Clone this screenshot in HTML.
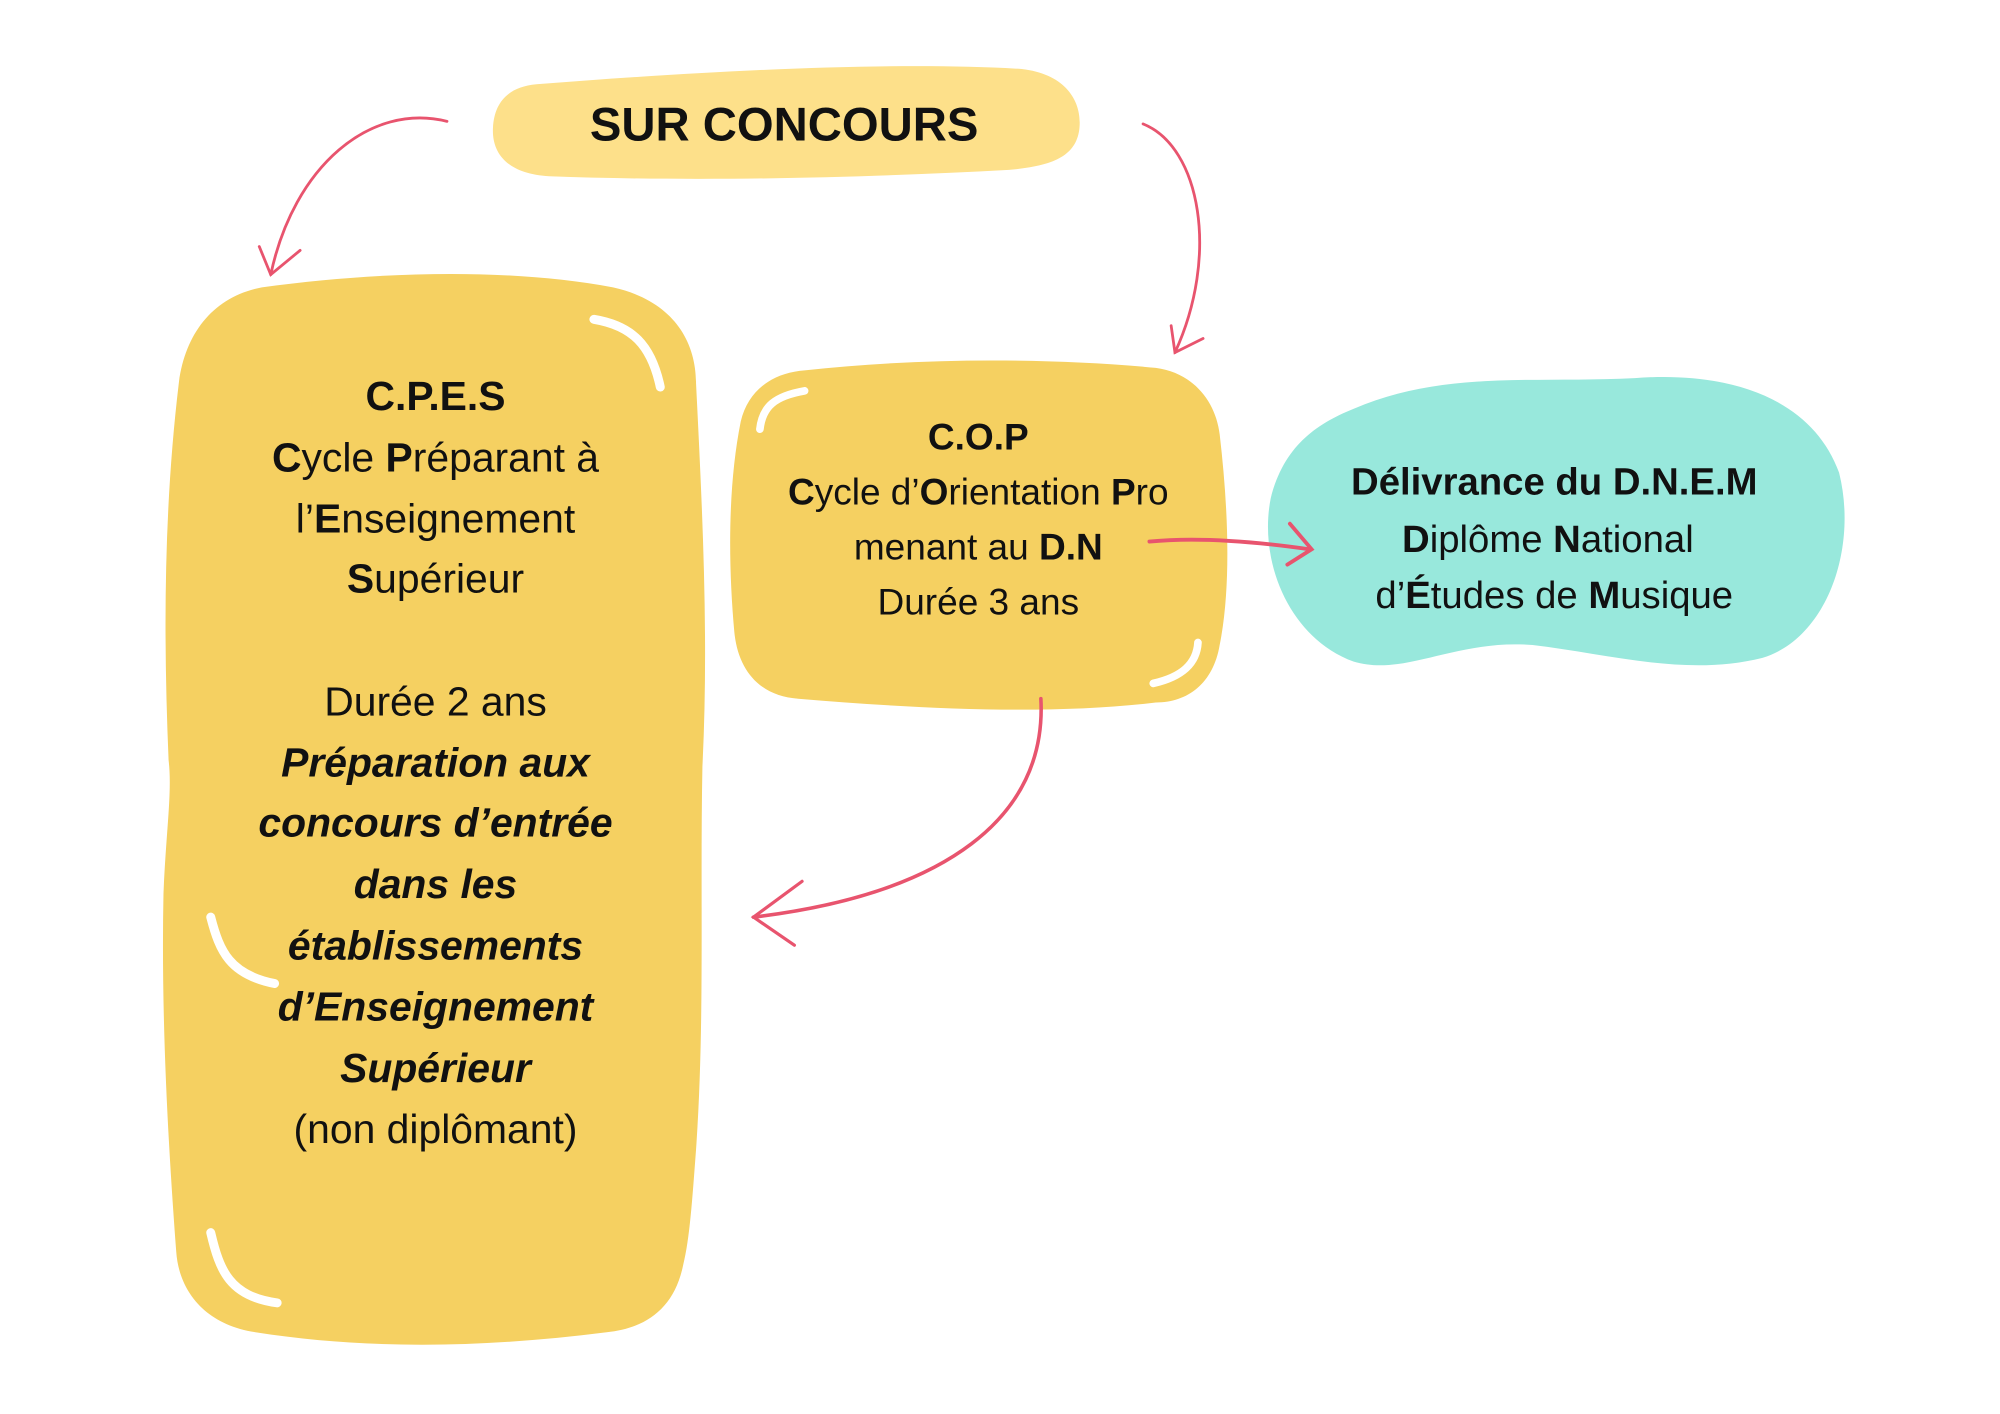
<!DOCTYPE html>
<html><head><meta charset="utf-8"><style>html,body{margin:0;padding:0;background:#fff}svg{display:block}</style></head>
<body>
<svg width="2000" height="1414" viewBox="0 0 1566 1107" preserveAspectRatio="none" xmlns="http://www.w3.org/2000/svg" font-family="'Liberation Sans', sans-serif">
<rect width="1566" height="1107" fill="#fff"/>
<!-- SUR CONCOURS pill -->
<path d="M420 66 C560 55 700 48 800 54 C835 58 848 80 845 102 C842 122 825 130 790 133 C660 140 540 142 430 138 C395 136 385 118 386 100 C387 80 398 68 420 66 Z" fill="#fde08a"/>
<text x="614" y="110" text-anchor="middle" font-size="37" font-weight="bold" fill="#111">SUR CONCOURS</text>
<!-- CPES box -->
<path d="M205 225 C300 212 400 210 480 225 C525 235 545 265 545 300 C550 400 555 500 550 600 C548 700 552 800 545 900 C542 940 540 970 535 990 C528 1025 505 1040 475 1043 C380 1055 290 1057 200 1043 C160 1037 140 1010 138 980 C132 900 126 800 128 700 C130 650 135 620 132 595 C128 500 128 400 140 300 C145 260 168 232 205 225 Z" fill="#f5d061"/>
<path d="M465 250 C495 255 510 270 517 303" stroke="#fff" stroke-width="7" fill="none" stroke-linecap="round"/>
<path d="M165 718 C172 745 180 763 215 770" stroke="#fff" stroke-width="7" fill="none" stroke-linecap="round"/>
<path d="M165 965 C172 995 180 1015 217 1020" stroke="#fff" stroke-width="7" fill="none" stroke-linecap="round"/>
<g font-size="32" fill="#111" text-anchor="middle">
<text x="341" y="321" font-weight="bold">C.P.E.S</text>
<text x="341" y="369"><tspan font-weight="bold">C</tspan>ycle <tspan font-weight="bold">P</tspan>réparant à</text>
<text x="341" y="417">l’<tspan font-weight="bold">E</tspan>nseignement</text>
<text x="341" y="464"><tspan font-weight="bold">S</tspan>upérieur</text>
<text x="341" y="560">Durée 2 ans</text>
<g font-weight="bold" font-style="italic">
<text x="341" y="608">Préparation aux</text>
<text x="341" y="655">concours d’entrée</text>
<text x="341" y="703">dans les</text>
<text x="341" y="751">établissements</text>
<text x="341" y="799">d’Enseignement</text>
<text x="341" y="847">Supérieur</text>
</g>
<text x="341" y="895">(non diplômant)</text>
</g>
<!-- COP box -->
<path d="M630 290 C720 280 820 280 905 288 C935 292 952 315 955 340 C962 400 964 460 955 505 C950 535 930 550 905 550 C820 560 720 555 625 547 C595 545 578 525 575 495 C570 440 570 380 580 330 C586 305 605 292 630 290 Z" fill="#f5d061"/>
<path d="M595 336 C597 318 607 310 630 306" stroke="#fff" stroke-width="6" fill="none" stroke-linecap="round"/>
<path d="M903 535 C925 530 937 520 938 503" stroke="#fff" stroke-width="6" fill="none" stroke-linecap="round"/>
<g font-size="29" fill="#111" text-anchor="middle">
<text x="766" y="352" font-weight="bold">C.O.P</text>
<text x="766" y="395"><tspan font-weight="bold">C</tspan>ycle d’<tspan font-weight="bold">O</tspan>rientation <tspan font-weight="bold">P</tspan>ro</text>
<text x="766" y="438">menant au <tspan font-weight="bold">D.N</tspan></text>
<text x="766" y="481">Durée 3 ans</text>
</g>
<!-- DNEM blob -->
<path d="M1060 320 C1130 290 1200 300 1280 296 C1360 290 1420 315 1440 370 C1455 430 1430 500 1380 515 C1320 530 1260 512 1200 505 C1140 500 1100 530 1060 518 C1010 500 985 440 995 390 C1005 350 1030 332 1060 320 Z" fill="#98e8dc"/>
<g font-size="30" fill="#111" text-anchor="middle">
<text x="1217" y="387" font-weight="bold">Délivrance du D.N.E.M</text>
<text x="1212" y="432"><tspan font-weight="bold">D</tspan>iplôme <tspan font-weight="bold">N</tspan>ational</text>
<text x="1217" y="476">d’<tspan font-weight="bold">É</tspan>tudes de <tspan font-weight="bold">M</tspan>usique</text>
</g>
<!-- arrows -->
<g stroke="#e8546e" fill="none" stroke-linecap="round" stroke-width="2.2">
<path d="M350 95 C290 80 230 130 212 215"/>
<path d="M203 193 L212 215 L235 196"/>
<path d="M895 97 C940 115 955 200 920 276"/>
<path d="M917 255 L920 276 L942 265"/>
<path d="M900 424 C940 420 990 425 1025 430" stroke-width="3"/>
<path d="M1010 410 L1027 430 L1008 442" stroke-width="3"/>
<path d="M815 547 C820 640 740 700 590 718" stroke-width="2.8"/>
<path d="M628 690 L590 718 L622 740" stroke-width="2.5"/>
</g>
</svg>
</body></html>
